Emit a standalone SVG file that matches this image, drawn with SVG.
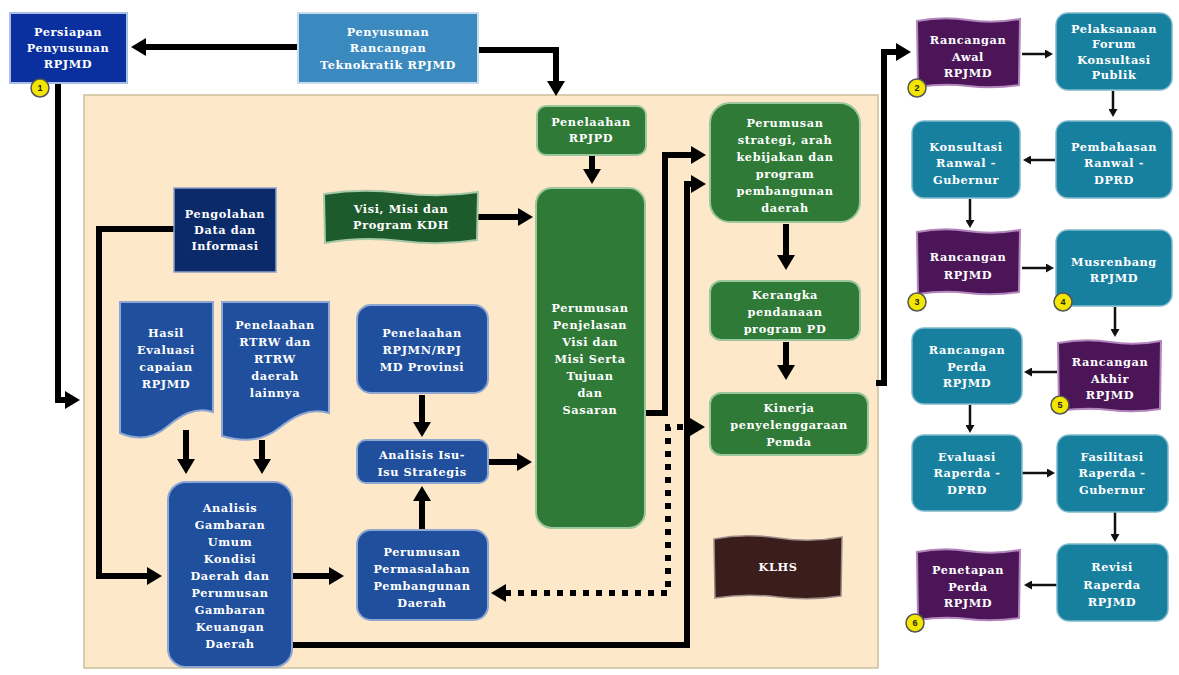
<svg xmlns="http://www.w3.org/2000/svg" width="1179" height="675" viewBox="0 0 1179 675">
<defs>
<style>
.t{font-family:"DejaVu Serif","Liberation Serif",serif;font-weight:bold;font-size:11.3px;letter-spacing:0.6px;fill:#fff;text-anchor:middle}
.bt{font-family:"Liberation Sans",Arial,sans-serif;font-weight:bold;font-size:9px;fill:#222;text-anchor:middle}
.royal{fill:#0a2f9e;stroke:#a9bfe3;stroke-width:2}
.steel{fill:#3a8ac0;stroke:#c8dcec;stroke-width:2}
.navy{fill:#0b2a6a;stroke:#8d9fc6;stroke-width:1.5}
.blue{fill:#1f4f9d;stroke:#8ea6d2;stroke-width:2}
.green{fill:#2e7a36;stroke:#9cc79c;stroke-width:2}
.dgreen{fill:#1d5a2c;stroke:#a8c8a8;stroke-width:2}
.teal{fill:#17809f;stroke:#7fb8cc;stroke-width:1.5}
.purple{fill:#4b1558;stroke:#b386bd;stroke-width:2}
.brown{fill:#3b1d1b;stroke:#9a8a88;stroke-width:1.5}
.badge{fill:#f3e600;stroke:#555;stroke-width:1.5}
.c{fill:none;stroke:#000;stroke-width:6}
.d{fill:none;stroke:#000;stroke-width:6;stroke-dasharray:6 7}
.s{fill:none;stroke:#111;stroke-width:2.5}
</style>
<marker id="a" markerUnits="userSpaceOnUse" markerWidth="16" markerHeight="18" refX="1" refY="9" orient="auto-start-reverse"><path d="M0,0 L15,9 L0,18 Z" fill="#000"/></marker>
<marker id="b" markerUnits="userSpaceOnUse" markerWidth="9" markerHeight="9" refX="1" refY="4.5" orient="auto"><path d="M0,0 L8,4.5 L0,9 Z" fill="#111"/></marker>
</defs>
<rect width="1179" height="675" fill="#fff"/>
<rect id="panel" x="84" y="95" width="794" height="573" fill="#fde8c9" stroke="#cdbf9c" stroke-width="1.5"/>

<g id="connectors">
<path class="c" d="M298,47 H145" marker-end="url(#a)"/>
<path class="c" d="M478,50 H556 V82" marker-end="url(#a)"/>
<path class="c" d="M58,84 V400 H66" marker-end="url(#a)"/>
<path class="c" d="M174,229 H99 V576 H148" marker-end="url(#a)"/>
<path class="c" d="M478,217 H519" marker-end="url(#a)"/>
<path class="c" d="M592,155 V170" marker-end="url(#a)"/>
<path class="c" d="M186,430 V460" marker-end="url(#a)"/>
<path class="c" d="M262,440 V460" marker-end="url(#a)"/>
<path class="c" d="M292,576 H330" marker-end="url(#a)"/>
<path class="c" d="M422,395 V423" marker-end="url(#a)"/>
<path class="c" d="M422,530 V500" marker-end="url(#a)"/>
<path class="c" d="M488,462 H518" marker-end="url(#a)"/>
<path class="c" d="M645,413 H665 V155 H692" marker-end="url(#a)"/>
<path class="c" d="M292,645 H687 V184 H692" marker-end="url(#a)"/>
<path class="c" d="M786,224 V256" marker-end="url(#a)"/>
<path class="c" d="M786,342 V366" marker-end="url(#a)"/>
<path class="d" d="M505,593 H668 V427 H691" marker-start="url(#a)" marker-end="url(#a)"/>
<path class="c" d="M876,383 H884 V52 H897" marker-end="url(#a)"/>
<path class="s" d="M1022,54 H1046" marker-end="url(#b)"/>
<path class="s" d="M1113,91 V110" marker-end="url(#b)"/>
<path class="s" d="M1055,160 H1030" marker-end="url(#b)"/>
<path class="s" d="M970,199 V221" marker-end="url(#b)"/>
<path class="s" d="M1022,268 H1047" marker-end="url(#b)"/>
<path class="s" d="M1115,307 V330" marker-end="url(#b)"/>
<path class="s" d="M1057,372 H1031" marker-end="url(#b)"/>
<path class="s" d="M970,405 V426" marker-end="url(#b)"/>
<path class="s" d="M1022,473 H1048" marker-end="url(#b)"/>
<path class="s" d="M1115,512 V535" marker-end="url(#b)"/>
<path class="s" d="M1057,585 H1031" marker-end="url(#b)"/>
</g>

<g id="persiapan">
<rect class="royal" x="10" y="13" width="117" height="70"/>
<text class="t"><tspan x="68" y="36">Persiapan</tspan><tspan x="68" y="52">Penyusunan</tspan><tspan x="68" y="68">RPJMD</tspan></text>
<circle class="badge" cx="40" cy="88" r="9"/><text class="bt" x="40" y="91">1</text>
</g>
<g id="teknokratik">
<rect class="steel" x="298" y="13" width="180" height="70"/>
<text class="t"><tspan x="388" y="36">Penyusunan</tspan><tspan x="388" y="52">Rancangan</tspan><tspan x="388" y="69">Teknokratik RPJMD</tspan></text>
</g>
<g id="rpjpd">
<rect class="green" x="537" y="106" width="109" height="49" rx="9"/>
<text class="t"><tspan x="591" y="126">Penelaahan</tspan><tspan x="591" y="142">RPJPD</tspan></text>
</g>
<g id="pengolahan">
<rect class="navy" x="174" y="188" width="102" height="84"/>
<text class="t"><tspan x="225" y="218">Pengolahan</tspan><tspan x="225" y="234">Data dan</tspan><tspan x="225" y="250">Informasi</tspan></text>
</g>
<g id="visi">
<path class="dgreen" d="M324,194 Q362,188 401,193 T478,192 L477,240 Q440,246 401,241 T325,243 Z"/>
<text class="t"><tspan x="401" y="213">Visi, Misi dan</tspan><tspan x="401" y="229">Program KDH</tspan></text>
</g>
<g id="perumusan-visi">
<rect class="green" x="536" y="188" width="109" height="340" rx="16"/>
<text class="t"><tspan x="590" y="312">Perumusan</tspan><tspan x="590" y="329">Penjelasan</tspan><tspan x="590" y="346">Visi dan</tspan><tspan x="590" y="363">Misi Serta</tspan><tspan x="590" y="380">Tujuan</tspan><tspan x="590" y="397">dan</tspan><tspan x="590" y="414">Sasaran</tspan></text>
</g>
<g id="strategi">
<rect class="green" x="710" y="103" width="150" height="119" rx="20"/>
<text class="t"><tspan x="785" y="127">Perumusan</tspan><tspan x="785" y="144">strategi, arah</tspan><tspan x="785" y="161">kebijakan dan</tspan><tspan x="785" y="178">program</tspan><tspan x="785" y="195">pembangunan</tspan><tspan x="785" y="212">daerah</tspan></text>
</g>
<g id="kerangka">
<rect class="green" x="710" y="281" width="150" height="59" rx="11"/>
<text class="t"><tspan x="785" y="299">Kerangka</tspan><tspan x="785" y="316">pendanaan</tspan><tspan x="785" y="333">program PD</tspan></text>
</g>
<g id="kinerja">
<rect class="green" x="710" y="393" width="158" height="62" rx="11"/>
<text class="t"><tspan x="789" y="412">Kinerja</tspan><tspan x="789" y="429">penyelenggaraan</tspan><tspan x="789" y="446">Pemda</tspan></text>
</g>
<g id="klhs">
<path class="brown" d="M714,539 Q745,533 778,538 T842,537 L841,596 Q810,601 778,597 T715,598 Z"/>
<text class="t" x="778" y="571">KLHS</text>
</g>
<g id="hasil">
<path class="blue" d="M120,302 H213 V412 C195,406 180,416 168,426 C152,440 136,440 120,433 Z"/>
<text class="t"><tspan x="166" y="337">Hasil</tspan><tspan x="166" y="354">Evaluasi</tspan><tspan x="166" y="371">capaian</tspan><tspan x="166" y="388">RPJMD</tspan></text>
</g>
<g id="rtrw">
<path class="blue" d="M222,302 H329 V413 C308,407 292,418 279,428 C262,442 242,442 222,436 Z"/>
<text class="t"><tspan x="275" y="329">Penelaahan</tspan><tspan x="275" y="346">RTRW dan</tspan><tspan x="275" y="363">RTRW</tspan><tspan x="275" y="380">daerah</tspan><tspan x="275" y="397">lainnya</tspan></text>
</g>
<g id="rpjmn">
<rect class="blue" x="357" y="305" width="131" height="88" rx="14"/>
<text class="t"><tspan x="422" y="337">Penelaahan</tspan><tspan x="422" y="354">RPJMN/RPJ</tspan><tspan x="422" y="371">MD Provinsi</tspan></text>
</g>
<g id="isu">
<rect class="blue" x="357" y="440" width="131" height="43" rx="9"/>
<text class="t"><tspan x="422" y="459">Analisis Isu-</tspan><tspan x="422" y="476">Isu Strategis</tspan></text>
</g>
<g id="permasalahan">
<rect class="blue" x="357" y="530" width="131" height="90" rx="14"/>
<text class="t"><tspan x="422" y="556">Perumusan</tspan><tspan x="422" y="573">Permasalahan</tspan><tspan x="422" y="590">Pembangunan</tspan><tspan x="422" y="607">Daerah</tspan></text>
</g>
<g id="gambaran">
<rect class="blue" x="168" y="482" width="124" height="185" rx="18"/>
<text class="t"><tspan x="230" y="512">Analisis</tspan><tspan x="230" y="529">Gambaran</tspan><tspan x="230" y="546">Umum</tspan><tspan x="230" y="563">Kondisi</tspan><tspan x="230" y="580">Daerah dan</tspan><tspan x="230" y="597">Perumusan</tspan><tspan x="230" y="614">Gambaran</tspan><tspan x="230" y="631">Keuangan</tspan><tspan x="230" y="648">Daerah</tspan></text>
</g>

<g id="ranwal">
<path class="purple" d="M917,21 Q943,16 968,20 T1020,19 L1019,85 Q993,89 968,86 T918,87 Z"/>
<text class="t"><tspan x="968" y="44">Rancangan</tspan><tspan x="968" y="61">Awal</tspan><tspan x="968" y="77">RPJMD</tspan></text>
<circle class="badge" cx="917" cy="88" r="9"/><text class="bt" x="917" y="91">2</text>
</g>
<g id="forum">
<rect class="teal" x="1056" y="13" width="116" height="77" rx="12"/>
<text class="t"><tspan x="1114" y="33">Pelaksanaan</tspan><tspan x="1114" y="48">Forum</tspan><tspan x="1114" y="64">Konsultasi</tspan><tspan x="1114" y="79">Publik</tspan></text>
</g>
<g id="pembahasan">
<rect class="teal" x="1056" y="121" width="116" height="77" rx="12"/>
<text class="t"><tspan x="1114" y="151">Pembahasan</tspan><tspan x="1114" y="167">Ranwal -</tspan><tspan x="1114" y="184">DPRD</tspan></text>
</g>
<g id="konsultasi">
<rect class="teal" x="912" y="121" width="108" height="77" rx="12"/>
<text class="t"><tspan x="966" y="151">Konsultasi</tspan><tspan x="966" y="167">Ranwal -</tspan><tspan x="966" y="184">Gubernur</tspan></text>
</g>
<g id="rancangan">
<path class="purple" d="M917,232 Q943,227 968,231 T1020,230 L1019,292 Q993,296 968,293 T918,294 Z"/>
<text class="t"><tspan x="968" y="261">Rancangan</tspan><tspan x="968" y="279">RPJMD</tspan></text>
<circle class="badge" cx="917" cy="302" r="9"/><text class="bt" x="917" y="305">3</text>
</g>
<g id="musrenbang">
<rect class="teal" x="1056" y="230" width="116" height="76" rx="12"/>
<text class="t"><tspan x="1114" y="266">Musrenbang</tspan><tspan x="1114" y="282">RPJMD</tspan></text>
<circle class="badge" cx="1063" cy="302" r="9"/><text class="bt" x="1063" y="305">4</text>
</g>
<g id="akhir">
<path class="purple" d="M1058,343 Q1085,338 1110,342 T1161,341 L1160,409 Q1135,413 1110,410 T1059,411 Z"/>
<text class="t"><tspan x="1110" y="366">Rancangan</tspan><tspan x="1110" y="383">Akhir</tspan><tspan x="1110" y="399">RPJMD</tspan></text>
<circle class="badge" cx="1060" cy="405" r="9"/><text class="bt" x="1060" y="408">5</text>
</g>
<g id="perda">
<rect class="teal" x="912" y="328" width="110" height="76" rx="12"/>
<text class="t"><tspan x="967" y="354">Rancangan</tspan><tspan x="967" y="371">Perda</tspan><tspan x="967" y="387">RPJMD</tspan></text>
</g>
<g id="evaluasi">
<rect class="teal" x="912" y="435" width="110" height="76" rx="12"/>
<text class="t"><tspan x="967" y="461">Evaluasi</tspan><tspan x="967" y="477">Raperda -</tspan><tspan x="967" y="494">DPRD</tspan></text>
</g>
<g id="fasilitasi">
<rect class="teal" x="1057" y="435" width="111" height="77" rx="12"/>
<text class="t"><tspan x="1112" y="461">Fasilitasi</tspan><tspan x="1112" y="477">Raperda -</tspan><tspan x="1112" y="494">Gubernur</tspan></text>
</g>
<g id="revisi">
<rect class="teal" x="1057" y="544" width="111" height="77" rx="12"/>
<text class="t"><tspan x="1112" y="571">Revisi</tspan><tspan x="1112" y="589">Raperda</tspan><tspan x="1112" y="606">RPJMD</tspan></text>
</g>
<g id="penetapan">
<path class="purple" d="M917,552 Q943,547 968,551 T1020,550 L1019,618 Q993,622 968,619 T918,620 Z"/>
<text class="t"><tspan x="968" y="574">Penetapan</tspan><tspan x="968" y="591">Perda</tspan><tspan x="968" y="607">RPJMD</tspan></text>
<circle class="badge" cx="915" cy="623" r="9"/><text class="bt" x="915" y="626">6</text>
</g>
</svg>
